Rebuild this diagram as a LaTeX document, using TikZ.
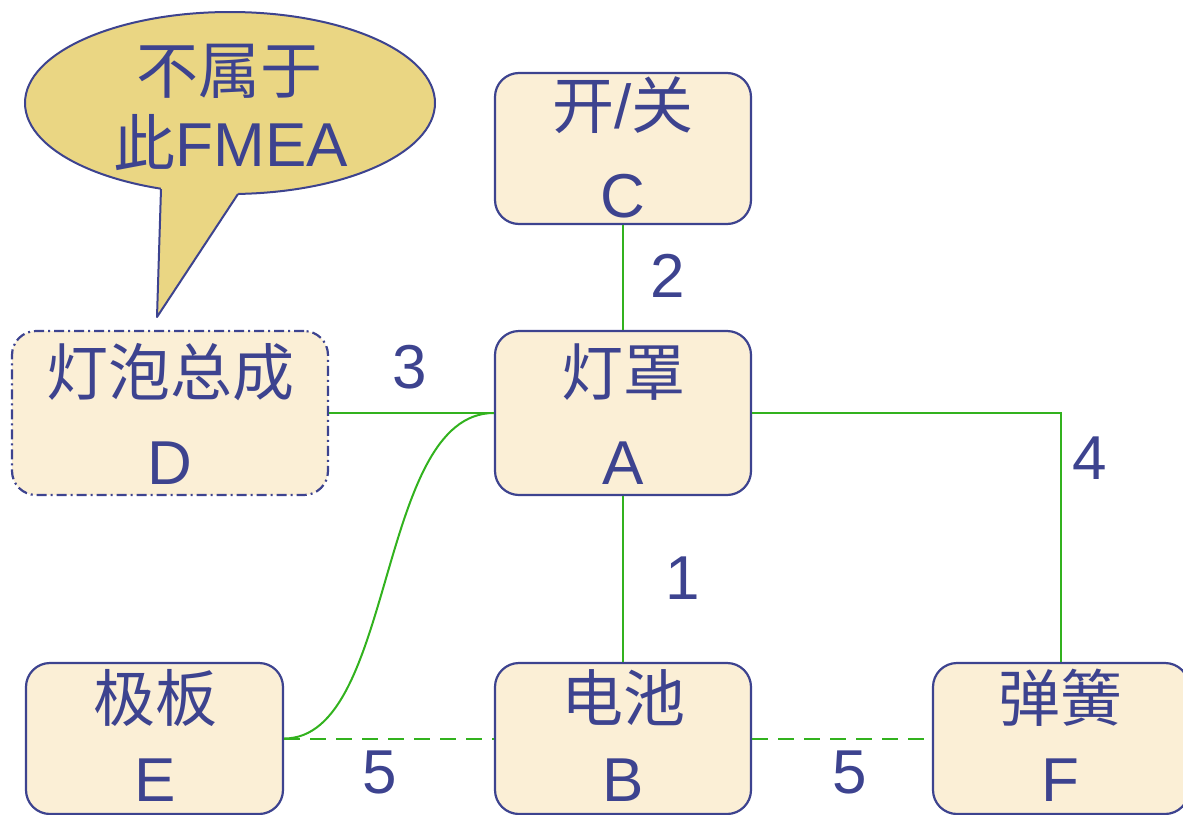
\documentclass[tikz,border=0pt]{standalone}
\usepackage{fontspec}
\setmainfont{Liberation Sans}
\newfontfamily\cjk{Noto Sans CJK SC}
\definecolor{ink}{RGB}{61,67,143}
\definecolor{wire}{RGB}{50,178,30}
\definecolor{boxfill}{RGB}{251,239,214}
\definecolor{bubblefill}{RGB}{234,214,131}
\tikzset{
  part/.style={draw=ink, line width=2.2pt, fill=boxfill, rounded corners=24pt, inner sep=0pt},
  outside/.style={part, dash pattern=on 10pt off 4pt on 2pt off 4pt},
  cn/.style={text=ink, inner sep=0pt, font=\fontsize{62}{64}\selectfont\cjk},
  ln/.style={text=ink, inner sep=0pt, font=\fontsize{62}{64}\selectfont},
  link/.style={draw=wire, line width=2pt},
  dlink/.style={link, dash pattern=on 16pt off 10pt},
}
\begin{document}
\begin{tikzpicture}[x=1pt,y=-1pt]
\useasboundingbox (0,0) rectangle (1183,814);
\clip (0,0) rectangle (1183,814);
% boxes
\node[part, minimum width=256pt, minimum height=151pt] (C) at (623,148.5) {};
\node[part, minimum width=256pt, minimum height=164pt] (A) at (623,413) {};
\node[outside, minimum width=316pt, minimum height=164pt] (D) at (170,413) {};
\node[part, minimum width=257pt, minimum height=151pt] (E) at (154.5,738.5) {};
\node[part, minimum width=256pt, minimum height=151pt] (B) at (623,738.5) {};
\node[part, minimum width=256pt, minimum height=151pt] (F) at (1061,738.5) {};
% texts
\node[cn] (Cn) at (623,105) {开{\fontspec{Liberation Sans}/}关};
\node[ln] (Cl) at (623,196) {C};
\node[cn] (An) at (623,372) {灯罩};
\node[ln] (Al) at (623,463) {A};
\node[cn] (Dn) at (170,372) {灯泡总成};
\node[ln] (Dl) at (170,463) {D};
\node[cn] (En) at (155,698) {极板};
\node[ln] (El) at (155,780) {E};
\node[cn] (Bn) at (623,698) {电池};
\node[ln] (Bl) at (623,780) {B};
\node[cn] (Fn) at (1060,698) {弹簧};
\node[ln] (Fl) at (1060,780) {F};
% connectors
\draw[link] (C.south) -- (A.north);
\draw[link] (D.east) -- (A.west);
\draw[link] (A.south) -- (B.north);
\draw[link] (A.east) -| (F.north);
\draw[link] (E.east) .. controls +(112,0) and +(-118,0) .. (A.west);
\draw[dlink] (E.east) -- (B.west);
\draw[dlink] (B.east) -- (F.west);
% connector labels
\node[ln] (n2) at (668,276) {2};
\node[ln] (n3) at (410,367) {3};
\node[ln] (n4) at (1090,458) {4};
\node[ln] (n1) at (683,578) {1};
\node[ln] (n5a) at (380,772) {5};
\node[ln] (n5b) at (850,772) {5};
% speech bubble
\draw[draw=ink, line width=2pt, fill=bubblefill] (230,103) ellipse [x radius=205, y radius=91];
\fill[bubblefill] (161,189) -- (157,317) -- (238,194) -- (238,180) -- (161,176) -- cycle;
\draw[draw=ink, line width=2pt, line join=round] (161,189) -- (157,317) -- (238,194);
\node[cn] (b1) at (229,71) {不属于};
\node[ln] (b2) at (231,143) {{\cjk 此}FMEA};
\end{tikzpicture}
\end{document}
